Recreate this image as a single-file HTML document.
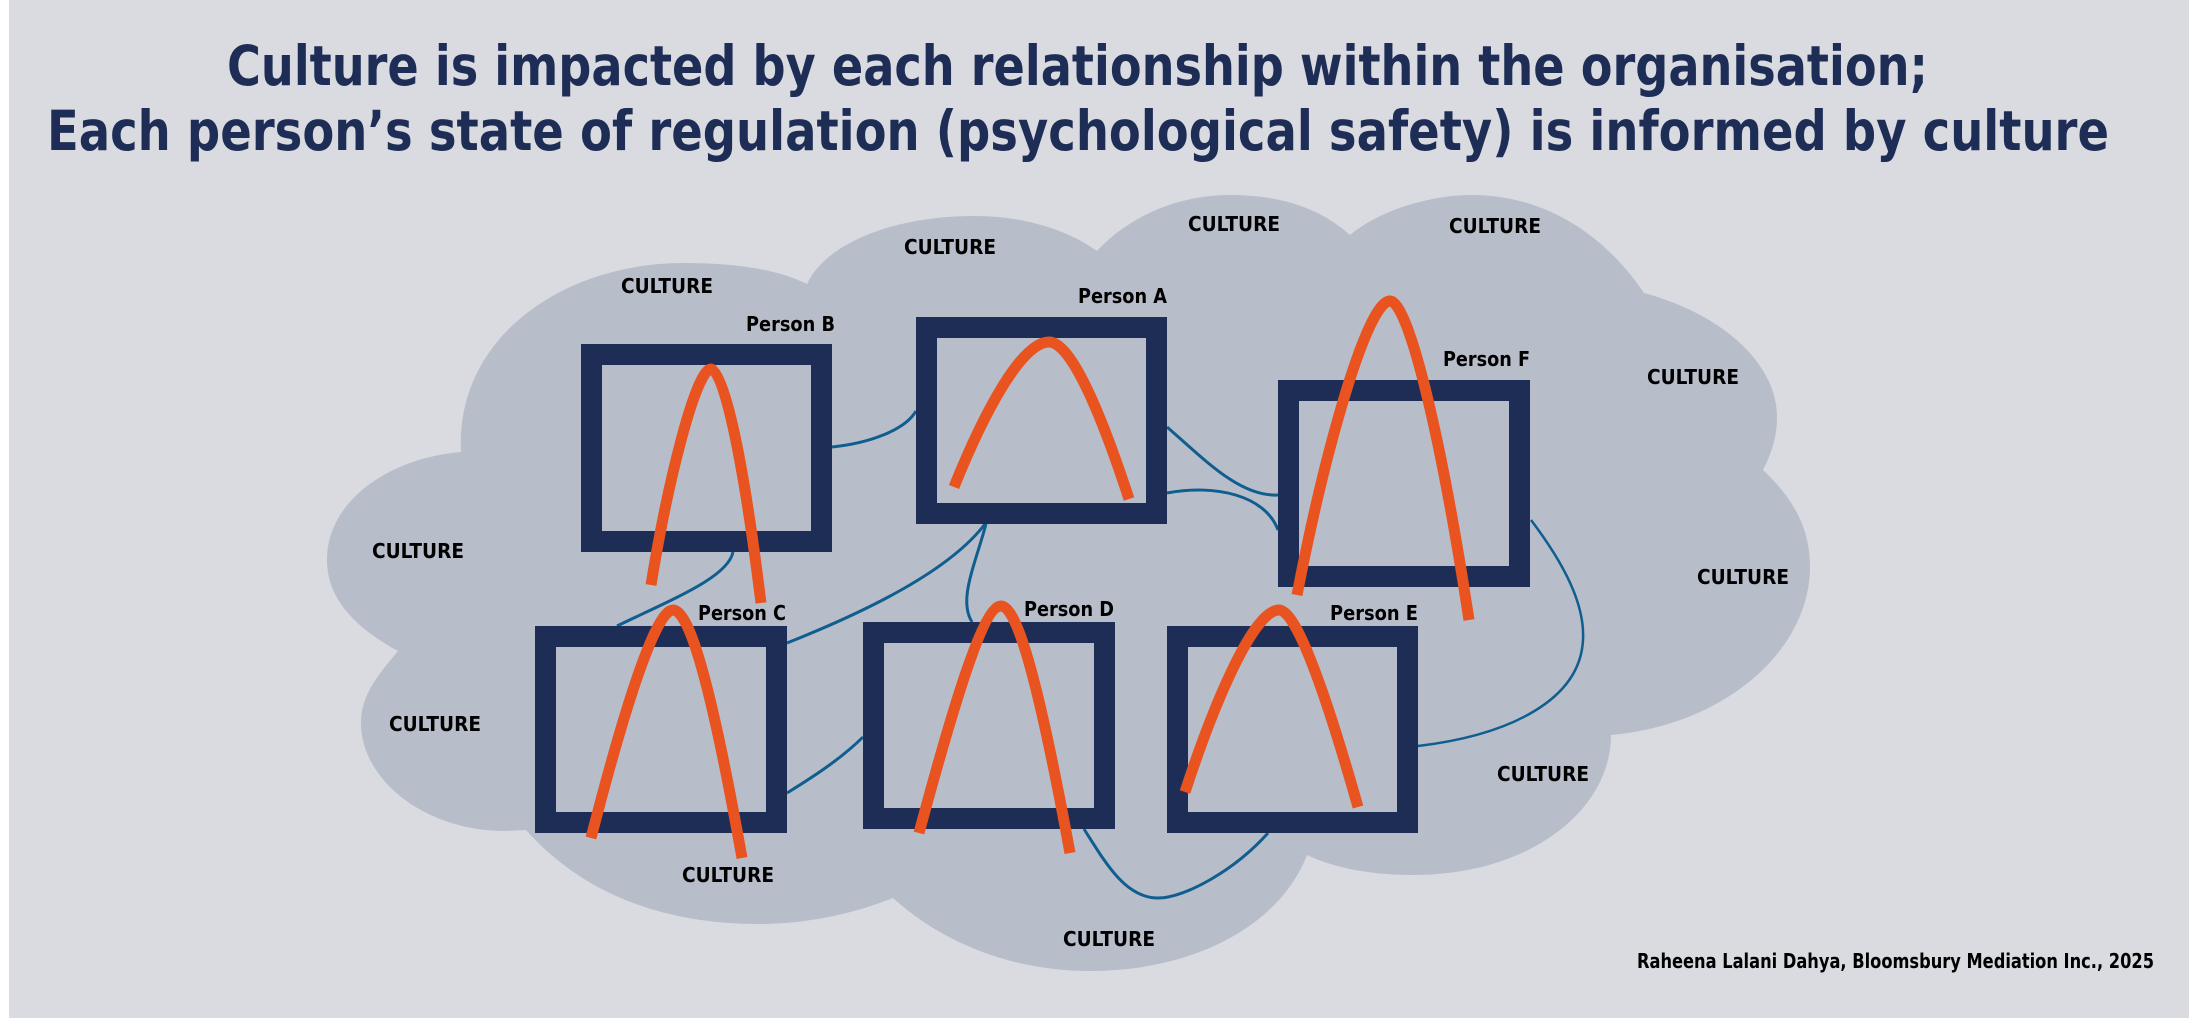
<!DOCTYPE html>
<html lang="en">
<head>
<meta charset="utf-8">
<title>Culture diagram</title>
<style>
html,body{margin:0;padding:0;background:#fff;}
svg{display:block;}
text{font-family:"DejaVu Sans","Liberation Sans",sans-serif;font-weight:700;}
.t{fill:#1e2d56;font-size:55px;}
.l{fill:#000;font-size:20px;}
.b{fill:none;stroke:#0f5e8f;stroke-width:3;}
.o{fill:none;stroke:#e9531f;stroke-width:11;}
.r{fill:none;stroke:#1e2d56;stroke-width:21;}
</style>
</head>
<body>
<svg width="2189" height="1019" viewBox="0 0 2189 1019" xmlns="http://www.w3.org/2000/svg">
<rect x="9" y="0" width="2180" height="1018" fill="#d9dbe0"/>
<text class="t" x="227" y="85" textLength="1701" lengthAdjust="spacingAndGlyphs">Culture is impacted by each relationship within the organisation;</text>
<text class="t" x="47" y="150" textLength="2062" lengthAdjust="spacingAndGlyphs">Each person’s state of regulation (psychological safety) is informed by culture</text>

<path fill="#b8bdca" d="M461 452 C455 340 560 263 684 263 C730 263 775 268 807 284 C825 245 890 216 975 216 C1020 216 1065 228 1097 251 C1130 215 1180 195 1230 195 C1280 195 1320 208 1350 235 C1380 210 1430 195 1472 195 C1545 195 1605 235 1644 293 C1725 315 1777 365 1777 417 C1777 437 1772 452 1763 470 C1795 500 1810 530 1810 567 C1810 650 1725 725 1611 735 C1611 810 1530 875 1413 875 C1370 875 1335 868 1307 855 C1280 925 1195 971 1090 971 C1015 971 945 945 893 898 C850 915 805 924 758 924 C650 924 575 885 526 830 L505 831 C425 831 361 780 361 723 C361 695 378 675 398 651 C350 625 327 595 327 560 C327 500 390 458 461 452 Z"/>

<path class="b" d="M832 447 C870 443 905 430 916 411"/>
<path class="b" d="M1167 427 C1205 460 1240 497 1278 495"/>
<path class="b" d="M1167 493 C1215 484 1265 495 1278 530"/>
<path class="b" d="M733 552 C728 577 675 598 617 626"/>
<path class="b" d="M985 524 C950 570 870 610 787 643"/>
<path class="b" d="M986 524 C975 565 958 600 972 622"/>
<path class="b" d="M787 793 C808 780 840 760 863 737"/>
<path class="b" d="M1084 829 C1105 862 1125 898 1158 898 C1185 898 1235 870 1268 833"/>
<path class="b" style="stroke-width:2.500" d="M1531 520 C1565 565 1585 605 1583 640 C1580 700 1510 735 1418 746"/>

<rect class="r" x="591.500" y="354.500" width="230" height="187"/>
<rect class="r" x="926.500" y="327.500" width="230" height="186"/>
<rect class="r" x="1288.500" y="390.500" width="231" height="186"/>
<rect class="r" x="545.500" y="636.500" width="231" height="186"/>
<rect class="r" x="873.500" y="632.500" width="231" height="186"/>
<rect class="r" x="1177.500" y="636.500" width="230" height="186"/>

<path class="o" d="M651 585 C668 480 696 369 711 369 C723 369 742 450 761 603"/>
<path class="o" d="M954 487 C985 410 1022 342 1049 342 C1068 342 1095 395 1129 499"/>
<path class="o" d="M1297 595 C1325 450 1367 301 1390 301 C1408 301 1440 430 1469 620"/>
<path class="o" d="M591 838 C620 725 654 610 673 610 C690 610 712 690 742 858"/>
<path class="o" d="M919 833 C948 725 982 606 1001 606 C1018 606 1040 690 1070 853"/>
<path class="o" d="M1185 792 C1215 700 1254 610 1279 610 C1295 610 1322 680 1358 807"/>

<text class="l" x="621" y="293" textLength="92" lengthAdjust="spacingAndGlyphs">CULTURE</text>
<text class="l" x="904" y="254" textLength="92" lengthAdjust="spacingAndGlyphs">CULTURE</text>
<text class="l" x="1188" y="231" textLength="92" lengthAdjust="spacingAndGlyphs">CULTURE</text>
<text class="l" x="1449" y="233" textLength="92" lengthAdjust="spacingAndGlyphs">CULTURE</text>
<text class="l" x="1647" y="384" textLength="92" lengthAdjust="spacingAndGlyphs">CULTURE</text>
<text class="l" x="372" y="558" textLength="92" lengthAdjust="spacingAndGlyphs">CULTURE</text>
<text class="l" x="389" y="731" textLength="92" lengthAdjust="spacingAndGlyphs">CULTURE</text>
<text class="l" x="682" y="882" textLength="92" lengthAdjust="spacingAndGlyphs">CULTURE</text>
<text class="l" x="1063" y="946" textLength="92" lengthAdjust="spacingAndGlyphs">CULTURE</text>
<text class="l" x="1497" y="781" textLength="92" lengthAdjust="spacingAndGlyphs">CULTURE</text>
<text class="l" x="1697" y="584" textLength="92" lengthAdjust="spacingAndGlyphs">CULTURE</text>

<text class="l" x="746" y="331" textLength="89" lengthAdjust="spacingAndGlyphs">Person B</text>
<text class="l" x="1078" y="303" textLength="89" lengthAdjust="spacingAndGlyphs">Person A</text>
<text class="l" x="1443" y="366" textLength="87" lengthAdjust="spacingAndGlyphs">Person F</text>
<text class="l" x="698" y="620" textLength="88" lengthAdjust="spacingAndGlyphs">Person C</text>
<text class="l" x="1024" y="616" textLength="90" lengthAdjust="spacingAndGlyphs">Person D</text>
<text class="l" x="1330" y="620" textLength="88" lengthAdjust="spacingAndGlyphs">Person E</text>

<text class="l" x="1637" y="968" textLength="517" lengthAdjust="spacingAndGlyphs">Raheena Lalani Dahya, Bloomsbury Mediation Inc., 2025</text>
</svg>
</body>
</html>
